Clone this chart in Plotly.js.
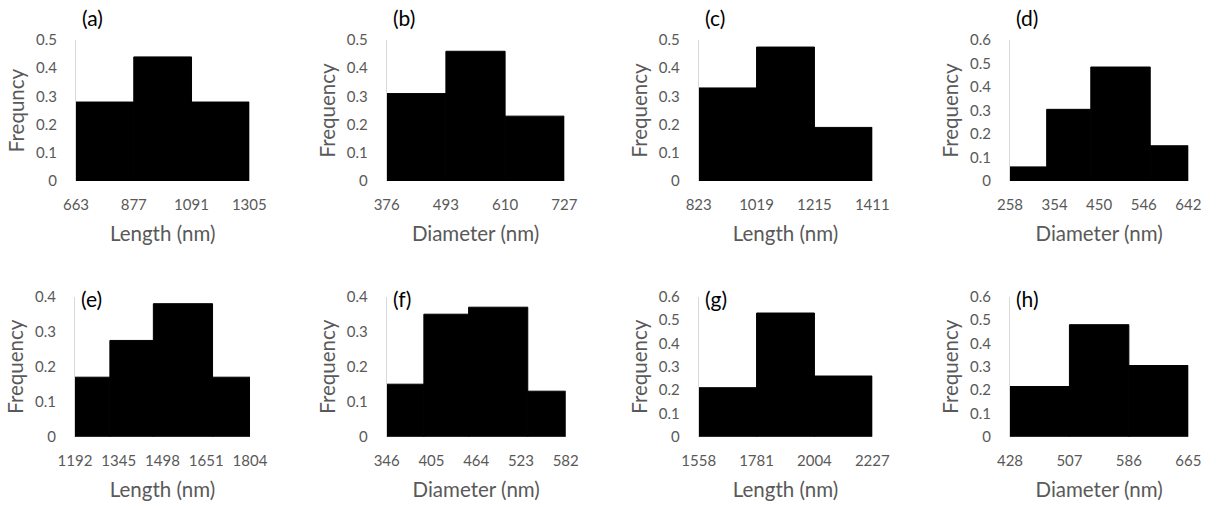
<!DOCTYPE html>
<html>
<head>
<meta charset="utf-8">
<script src="https://cdn.plot.ly/plotly-3.0.1.min.js"></script>
<style>html,body{margin:0;padding:0;background:#fff;}#chart{width:1216px;height:507px;}</style>
</head>
<body>
<div id="chart"></div>
<script>
// ---- data ----
const panelLabels = ['(a)', '(b)', '(c)', '(d)', '(e)', '(f)', '(g)', '(h)'];
const xTitles = ['Length (nm)', 'Diameter (nm)', 'Length (nm)', 'Diameter (nm)',
                 'Length (nm)', 'Diameter (nm)', 'Length (nm)', 'Diameter (nm)'];
const yTitles = ['Frequncy', 'Frequency', 'Frequency', 'Frequency',
                 'Frequency', 'Frequency', 'Frequency', 'Frequency'];

const ticksA = [663, 877, 1091, 1305];
const ticksB = [376, 493, 610, 727];
const ticksC = [823, 1019, 1215, 1411];
const ticksD = [258, 354, 450, 546, 642];
const ticksE = [1192, 1345, 1498, 1651, 1804];
const ticksF = [346, 405, 464, 523, 582];
const ticksG = [1558, 1781, 2004, 2227];
const ticksH = [428, 507, 586, 665];

const edgesA = [663, 877, 1091, 1305];
const edgesB = [376, 493, 610, 727];
const edgesC = [823, 1019, 1215, 1411];
const edgesD = [258, 337, 432, 560, 642];
const edgesE = [1192, 1314, 1466, 1673, 1804];
const edgesF = [346, 395, 454, 532, 582];
const edgesG = [1558, 1781, 2004, 2227];
const edgesH = [428, 507, 586, 665];

const freqA = [0.28, 0.44, 0.28];
const freqB = [0.31, 0.46, 0.23];
const freqC = [0.33, 0.475, 0.19];
const freqD = [0.06, 0.305, 0.485, 0.15];
const freqE = [0.17, 0.275, 0.38, 0.17];
const freqF = [0.15, 0.35, 0.37, 0.13];
const freqG = [0.21, 0.53, 0.26];
const freqH = [0.215, 0.48, 0.305];

const yMax = [0.5, 0.5, 0.5, 0.6, 0.4, 0.4, 0.6, 0.6];

// ---- layout geometry (pixels) ----
const W = 1216, H = 507;
const xDomPx = [[76, 249.3], [386.7, 564.3], [698.7, 872.3], [1010, 1188.3],
                [75, 250], [386.7, 565.7], [698.7, 872.3], [1010, 1188.3]];
const yDomPx = [[40, 181], [40, 181], [40, 181], [40, 181],
                [296.7, 436.7], [296.7, 436.7], [296.7, 436.7], [296.7, 436.7]];
const labelYPx = [18, 18, 18, 18, 298, 298, 298, 298];

const allTicks = [ticksA, ticksB, ticksC, ticksD, ticksE, ticksF, ticksG, ticksH];
const allEdges = [edgesA, edgesB, edgesC, edgesD, edgesE, edgesF, edgesG, edgesH];
const allFreq = [freqA, freqB, freqC, freqD, freqE, freqF, freqG, freqH];

const FONT = 'Lato, "Open Sans", sans-serif';
const GREY = '#595959';

const traces = [];
const layout = {
  width: W, height: H,
  margin: {l: 0, r: 0, t: 0, b: 0},
  paper_bgcolor: '#ffffff', plot_bgcolor: 'rgba(0,0,0,0)',
  showlegend: false,
  font: {family: FONT, color: GREY},
  annotations: []
};

for (let i = 0; i < 8; i++) {
  const n = i + 1;
  const ed = allEdges[i];
  const centers = [], widths = [];
  for (let k = 0; k < ed.length - 1; k++) {
    centers.push((ed[k] + ed[k + 1]) / 2);
    widths.push(ed[k + 1] - ed[k]);
  }
  traces.push({
    type: 'bar',
    x: centers, y: allFreq[i], width: widths,
    marker: {color: '#000000', line: {color: '#000000', width: 1}},
    xaxis: 'x' + n, yaxis: 'y' + n,
    hoverinfo: 'x+y'
  });
  const tk = allTicks[i];
  layout['xaxis' + n] = {
    domain: [xDomPx[i][0] / W, xDomPx[i][1] / W],
    anchor: 'y' + n,
    range: [ed[0], ed[ed.length - 1]],
    tickmode: 'array', tickvals: tk, ticktext: tk.map(String),
    showgrid: false, zeroline: false, showline: false,
    ticks: '', ticklabelstandoff: 13,
    tickfont: {family: FONT, size: 15, color: GREY},
    title: {text: xTitles[i], font: {family: FONT, size: 20.5, color: GREY}, standoff: 14},
    automargin: false
  };
  layout['yaxis' + n] = {
    domain: [1 - yDomPx[i][1] / H, 1 - yDomPx[i][0] / H],
    anchor: 'x' + n,
    range: [0, yMax[i]],
    tick0: 0, dtick: 0.1,
    showgrid: false, zeroline: false,
    showline: true, linecolor: '#D9D9D9', linewidth: 1,
    ticks: '', ticklabelstandoff: 15,
    tickfont: {family: FONT, size: 15, color: GREY},
    title: {text: yTitles[i], font: {family: FONT, size: 20.5, color: GREY}, standoff: 5},
    automargin: false
  };
  layout.annotations.push({
    text: panelLabels[i], showarrow: false,
    xref: 'paper', yref: 'paper',
    x: (xDomPx[i][0] + 4) / W, y: 1 - labelYPx[i] / H,
    xanchor: 'left', yanchor: 'middle',
    font: {family: FONT, size: 21, color: '#000000'}
  });
}

Plotly.newPlot('chart', traces, layout, {displayModeBar: false, staticPlot: true});
</script>
</body>
</html>
